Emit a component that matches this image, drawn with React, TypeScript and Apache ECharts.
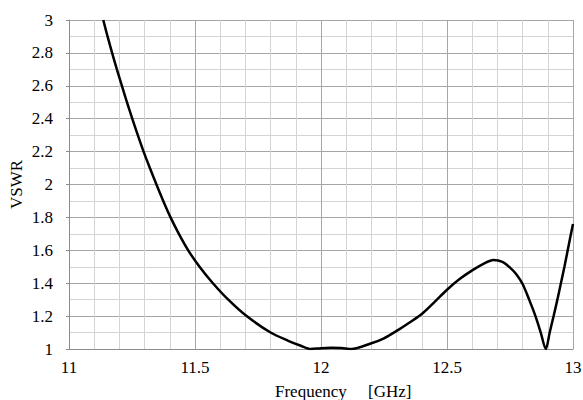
import React, { useEffect, useRef } from "react";
import * as echarts from "echarts";

const freq = [
  11.136, 11.153, 11.171, 11.19, 11.21, 11.23, 11.251, 11.273, 11.296, 11.321,
  11.347, 11.374, 11.403, 11.436, 11.473, 11.518, 11.571, 11.632, 11.705, 11.8,
  11.87, 11.92, 11.96, 12.0, 12.04, 12.08, 12.12, 12.2, 12.25, 12.3,
  12.35, 12.4, 12.45, 12.5, 12.55, 12.6, 12.65, 12.684, 12.72, 12.75,
  12.775, 12.8, 12.826, 12.851, 12.872, 12.892, 12.9075, 12.923, 12.938, 12.952,
  12.966, 12.979, 12.992, 13.0,
];
const vswr = [
  3.0, 2.9, 2.8, 2.7, 2.6, 2.5, 2.4, 2.3, 2.2, 2.1,
  2.0, 1.9, 1.8, 1.7, 1.6, 1.5, 1.4, 1.3, 1.2, 1.1,
  1.05, 1.02, 1.0, 1.005, 1.007, 1.006, 1.0, 1.035, 1.065, 1.11,
  1.16, 1.213, 1.285, 1.36, 1.425, 1.478, 1.522, 1.541, 1.53, 1.495,
  1.455, 1.395, 1.3, 1.2, 1.1, 1.0, 1.1, 1.2, 1.3, 1.4,
  1.5, 1.6, 1.7, 1.76,
];
const xTicks = [11, 11.5, 12, 12.5, 13];
const yTicks = [1, 1.2, 1.4, 1.6, 1.8, 2, 2.2, 2.4, 2.6, 2.8, 3];

const FONT = "'Liberation Serif', serif";
const FONT_CSS = `17px ${FONT}`;

export default function App() {
  const ref = useRef<HTMLDivElement>(null);
  useEffect(() => {
    if (!ref.current) return;
    const chart = echarts.init(ref.current, undefined, { renderer: "svg" });
    chart.setOption({
      animation: false,
      backgroundColor: "#ffffff",
      textStyle: { fontFamily: FONT, fontSize: 17, color: "#000" },
      grid: { left: 69, right: 10, top: 20, bottom: 51, containLabel: false },
      xAxis: {
        type: "value",
        min: 11,
        max: 13,
        interval: 0.5,
        axisLine: { show: true, onZero: false, lineStyle: { color: "#8c8c8c", width: 1 } },
        axisTick: { show: false },
        axisLabel: { show: false },
        splitLine: { show: true, lineStyle: { color: "#a6a6a6", width: 1 } },
        minorTick: { show: false, splitNumber: 5 },
        minorSplitLine: { show: true, lineStyle: { color: "#d4d4d4", width: 1 } },
      },
      yAxis: {
        type: "value",
        min: 1,
        max: 3,
        interval: 0.2,
        name: "VSWR",
        nameLocation: "middle",
        nameGap: 44,
        nameTextStyle: { color: "#000", fontFamily: FONT, fontSize: 17 },
        axisLine: { show: true, onZero: false, lineStyle: { color: "#8c8c8c", width: 1 } },
        axisTick: { show: true, length: 3, lineStyle: { color: "#8c8c8c" } },
        axisLabel: { show: false },
        splitLine: { show: true, lineStyle: { color: "#a6a6a6", width: 1 } },
        minorTick: { show: false, splitNumber: 2 },
        minorSplitLine: { show: true, lineStyle: { color: "#d4d4d4", width: 1 } },
      },
      series: [
        {
          type: "line",
          data: freq.map((f, i) => [f, vswr[i]]),
          showSymbol: false,
          smooth: 0.3,
          clip: true,
          lineStyle: { color: "#000", width: 2.5 },
        },
      ],
    });

    const yAxisPx = chart.convertToPixel({ xAxisIndex: 0 }, 11) as number;
    const xAxisPx = chart.convertToPixel({ yAxisIndex: 0 }, 1) as number;
    const labels: any[] = [];
    xTicks.forEach((t) => {
      const px = chart.convertToPixel({ xAxisIndex: 0 }, t) as number;
      labels.push({
        type: "text",
        x: px,
        y: xAxisPx + 10,
        style: { text: String(t), fill: "#000", font: FONT_CSS, align: "center", verticalAlign: "top" },
      });
    });
    yTicks.forEach((t) => {
      const py = chart.convertToPixel({ yAxisIndex: 0 }, t) as number;
      labels.push({
        type: "text",
        x: yAxisPx - 16,
        y: py,
        style: { text: String(t), fill: "#000", font: FONT_CSS, align: "right", verticalAlign: "middle" },
      });
    });
    labels.push({
      type: "text",
      x: 275,
      y: 383,
      style: { text: "Frequency     [GHz]", fill: "#000", font: FONT_CSS, align: "left", verticalAlign: "top" },
    });
    chart.setOption({ graphic: labels });
    return () => chart.dispose();
  }, []);
  return <div ref={ref} style={{ width: 583, height: 400, position: "absolute", left: 0, top: 0 }} />;
}
